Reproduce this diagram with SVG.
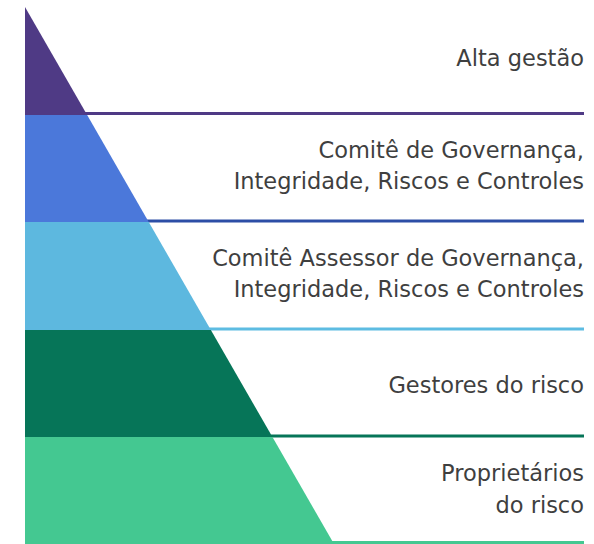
<svg xmlns="http://www.w3.org/2000/svg" width="594" height="544" viewBox="0 0 594 544">
  <style>
    .lbl { font-family: "DejaVu Sans", "Liberation Sans", sans-serif; font-size: 22.5px; fill: #3f3f3f; text-anchor: end; }
    .rule { stroke-width: 3; fill: none; }
  </style>
  <rect width="594" height="544" fill="#ffffff"/>
  <g id="connectors">
    <line class="rule" x1="85" y1="113.5" x2="584" y2="113.5" stroke="#4f3a85"/>
    <line class="rule" x1="147" y1="221" x2="584" y2="221" stroke="#2c4ea6"/>
    <line class="rule" x1="209" y1="329" x2="584" y2="329" stroke="#5dbce2"/>
    <line class="rule" x1="271" y1="436" x2="584" y2="436" stroke="#067558"/>
    <line class="rule" x1="332" y1="542.5" x2="584" y2="542.5" stroke="#44c891"/>
  </g>
  <g id="node-alta-gestao">
    <polygon points="25,7 87.15,115 25,115" fill="#4f3a85"/>
    <text class="lbl" x="584" y="66">Alta gestão</text>
  </g>
  <g id="node-comite-governanca">
    <polygon points="25,115 87.15,115 148.72,222 25,222" fill="#4b78da"/>
    <text class="lbl" x="584" y="157.5">Comitê de Governança,</text>
    <text class="lbl" x="584" y="189">Integridade, Riscos e Controles</text>
  </g>
  <g id="node-comite-assessor">
    <polygon points="25,222 148.72,222 210.86,330 25,330" fill="#5db8df"/>
    <text class="lbl" x="584" y="266">Comitê Assessor de Governança,</text>
    <text class="lbl" x="584" y="297">Integridade, Riscos e Controles</text>
  </g>
  <g id="node-gestores">
    <polygon points="25,330 210.86,330 272.43,437 25,437" fill="#067558"/>
    <text class="lbl" x="584" y="393">Gestores do risco</text>
  </g>
  <g id="node-proprietarios">
    <polygon points="25,437 272.43,437 334,544 25,544" fill="#44c891"/>
    <text class="lbl" x="584" y="481">Proprietários</text>
    <text class="lbl" x="584" y="513">do risco</text>
  </g>
</svg>
